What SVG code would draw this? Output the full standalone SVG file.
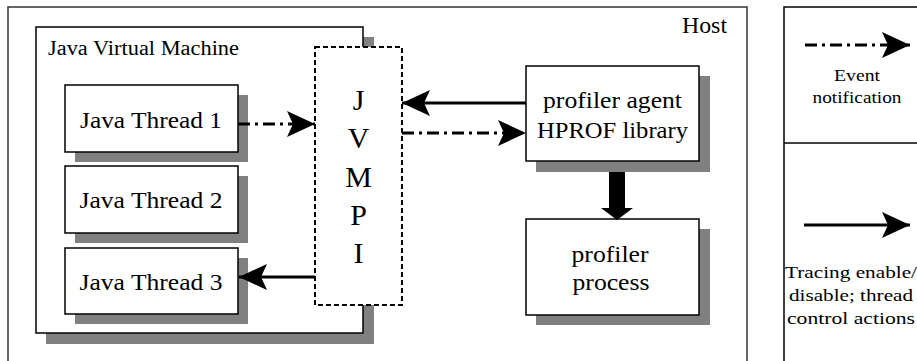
<svg xmlns="http://www.w3.org/2000/svg" width="917" height="361" viewBox="0 0 917 361" font-family="'Liberation Serif', Tinos, 'Times New Roman', Times, serif">
<style>
text{font-family:'Liberation Serif', Tinos, 'Times New Roman', Times, serif;fill:#000}
.box{fill:#fff;stroke:#000;stroke-width:1.5}
.sh{fill:#808080}
.t22{font-size:23.5px;text-anchor:middle}
.t30{font-size:30px;text-anchor:middle}
.leg{font-size:17px;text-anchor:middle}
.leg2{font-size:17.5px;text-anchor:middle}
.solid{fill:none;stroke:#000;stroke-width:3}
.dd{fill:none;stroke:#000;stroke-width:3;stroke-dasharray:12 5 3 5}
</style>
<defs>
<marker id="ah" markerUnits="userSpaceOnUse" markerWidth="30" markerHeight="28" refX="28" refY="13" orient="auto" overflow="visible">
<path d="M0,0 L28,13 L0,26 L6,13 Z" fill="#000"/>
</marker>
</defs>
<g id="host">
<rect x="8" y="7" width="739" height="370" fill="#fff" stroke="#333" stroke-width="1.5"/>
<text x="727" y="33" font-size="24" text-anchor="end" textLength="45" lengthAdjust="spacingAndGlyphs">Host</text>
</g>
<g id="jvm">
<rect class="sh" x="46" y="37" width="328" height="307"/>
<rect class="box" x="36" y="27" width="327" height="306"/>
<text x="48" y="55" font-size="20.5" textLength="191" lengthAdjust="spacingAndGlyphs">Java Virtual Machine</text>
</g>
<g id="thread1">
<rect class="sh" x="75" y="95" width="173" height="67"/>
<rect class="box" x="65" y="85" width="173" height="67"/>
<text class="t22" x="151" y="128" textLength="142" lengthAdjust="spacingAndGlyphs">Java Thread 1</text>
</g>
<g id="thread2">
<rect class="sh" x="75" y="176" width="173" height="67"/>
<rect class="box" x="65" y="166" width="173" height="67"/>
<text class="t22" x="151" y="208" textLength="143" lengthAdjust="spacingAndGlyphs">Java Thread 2</text>
</g>
<g id="thread3">
<rect class="sh" x="75" y="258" width="173" height="66"/>
<rect class="box" x="65" y="248" width="173" height="66"/>
<text class="t22" x="151" y="290" textLength="143" lengthAdjust="spacingAndGlyphs">Java Thread 3</text>
</g>
<g id="jvmpi">
<rect x="315" y="47" width="87" height="258" fill="#fff" stroke="#000" stroke-width="2" stroke-dasharray="5 3"/>
<text class="t30" x="358.5" y="110">J</text>
<text class="t30" x="358.5" y="148">V</text>
<text class="t30" x="358.5" y="187">M</text>
<text class="t30" x="358.5" y="225">P</text>
<text class="t30" x="358.5" y="263">I</text>
</g>
<g id="agent">
<rect class="sh" x="536" y="76" width="174" height="96"/>
<rect class="box" x="526" y="66" width="173" height="95"/>
<text class="t22" x="612.5" y="108" textLength="139" lengthAdjust="spacingAndGlyphs">profiler agent</text>
<text class="t22" x="612.5" y="138" textLength="151" lengthAdjust="spacingAndGlyphs">HPROF library</text>
</g>
<g id="process">
<rect class="sh" x="536" y="229" width="174" height="96"/>
<rect class="box" x="526" y="219" width="173" height="96"/>
<text class="t22" x="610" y="262" textLength="77" lengthAdjust="spacingAndGlyphs">profiler</text>
<text class="t22" x="611" y="290" textLength="77" lengthAdjust="spacingAndGlyphs">process</text>
</g>
<g id="connectors">
<path class="dd" d="M238,124 H315" marker-end="url(#ah)"/>
<path class="solid" d="M315,277 H239" marker-end="url(#ah)"/>
<path class="solid" d="M526,103 H402" marker-end="url(#ah)"/>
<path class="dd" d="M402,133 H526" marker-end="url(#ah)"/>
<polygon points="609,172 625,172 625,208 633,208 617,220 601,208 609,208" fill="#000"/>
</g>
<g id="legend">
<rect x="784" y="7" width="150" height="370" fill="#fff" stroke="#000" stroke-width="1.5"/>
<line x1="784" y1="143" x2="917" y2="143" stroke="#000" stroke-width="1.5"/>
<path class="dd" d="M805,45 H910" marker-end="url(#ah)"/>
<text class="leg" x="857" y="81" textLength="46" lengthAdjust="spacingAndGlyphs">Event</text>
<text class="leg" x="857" y="103" textLength="89" lengthAdjust="spacingAndGlyphs">notification</text>
<path class="solid" d="M804,225 H910" marker-end="url(#ah)"/>
<text class="leg2" x="851" y="278" textLength="132" lengthAdjust="spacingAndGlyphs">Tracing enable/</text>
<text class="leg2" x="851" y="301" textLength="124" lengthAdjust="spacingAndGlyphs">disable; thread</text>
<text class="leg2" x="851" y="324" textLength="128" lengthAdjust="spacingAndGlyphs">control actions</text>
</g>
</svg>
